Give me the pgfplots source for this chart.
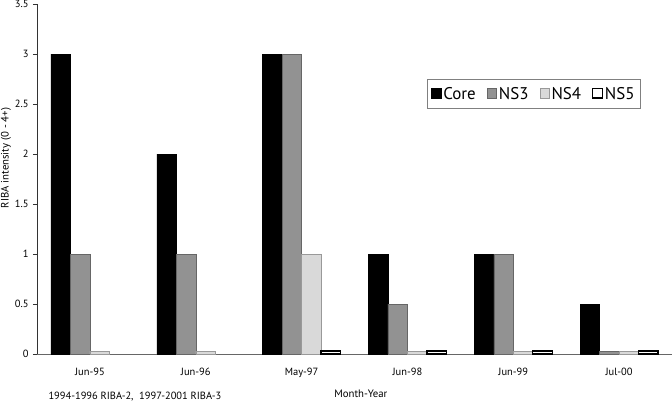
\documentclass[border=0pt]{standalone}
\usepackage{fontspec}
\setmainfont{PT Sans}
\usepackage{pgfplots}
\pgfplotsset{compat=1.18}
\definecolor{ns3}{HTML}{929292}
\definecolor{ns4}{HTML}{D9D9D9}
\begin{document}
\begin{tikzpicture}[x=1bp,y=1bp]
\begin{axis}[
  at={(0,0)}, anchor=south west,
  scale only axis, width=635bp, height=350bp,
  xmin=-0.5, xmax=5.5, ymin=0, ymax=3.5,
  ybar=0pt, bar width=19.5bp,
  axis x line*=bottom, axis y line*=left,
  x axis line style={draw=gray!80!black, line width=0.8bp},
  y axis line style={draw=black!80, line width=0.6bp},
  xtick={0,1,2,3,4,5},
  xticklabels={Jun-95,Jun-96,May-97,Jun-98,Jun-99,Jul-00},
  xtick style={draw=none},
  ytick={0,0.5,1,1.5,2,2.5,3,3.5},
  yticklabels={0,0.5,1,1.5,2,2.5,3,3.5},
  ytick style={draw=black!80, line width=0.5bp},
  tick align=outside, major tick length=4bp,
  tick label style={font=\fontsize{10.5}{12}\selectfont},
  /pgf/number format/assume math mode=true,
  xticklabel style={yshift=-7bp},
  yticklabel style={xshift=-1bp},
  xlabel={Month-Year}, ylabel={RIBA intensity (0 - 4+)},
  label style={font=\fontsize{10.8}{12}\selectfont},
  xlabel style={at={(ticklabel cs:0.51)}, yshift=-5bp},
  ylabel style={at={(ticklabel cs:0.56)}, yshift=-3bp},
  legend style={at={(0.614,0.786)}, anchor=north west, draw=gray, line width=0.6bp,
    font=\fontsize{17}{19}\selectfont, legend columns=4,
    inner xsep=4bp, inner ysep=6bp,
    /tikz/every even column/.append style={column sep=9bp}},
  legend image code/.code={\draw[#1] (0bp,-4bp) rectangle (9.5bp,5.5bp);},
  legend cell align=left,
  clip=false,
]
\addplot[fill=black, draw=black] coordinates {(0,3) (1,2) (2,3) (3,1) (4,1) (5,0.5)};
\addplot[fill=ns3, draw=black!60] coordinates {(0,1) (1,1) (2,3) (3,0.5) (4,1) (5,0.03)};
\addplot[fill=ns4, draw=black!40] coordinates {(0,0.03) (1,0.03) (2,1) (3,0.03) (4,0.03) (5,0.03)};
\addplot[fill=white, draw=black, line width=1.2bp] coordinates {(2,0.03) (3,0.03) (4,0.03) (5,0.03)};
\legend{Core,NS3,NS4,NS5}
\end{axis}
\node[anchor=base west, font=\fontsize{10.5}{12}\selectfont] at (8bp,-45bp) {1994-1996 RIBA-2,\ \ 1997-2001 RIBA-3};
\pgfresetboundingbox
\path[use as bounding box] (-37bp,-48bp) rectangle (635bp,354bp);
\end{tikzpicture}
\end{document}
